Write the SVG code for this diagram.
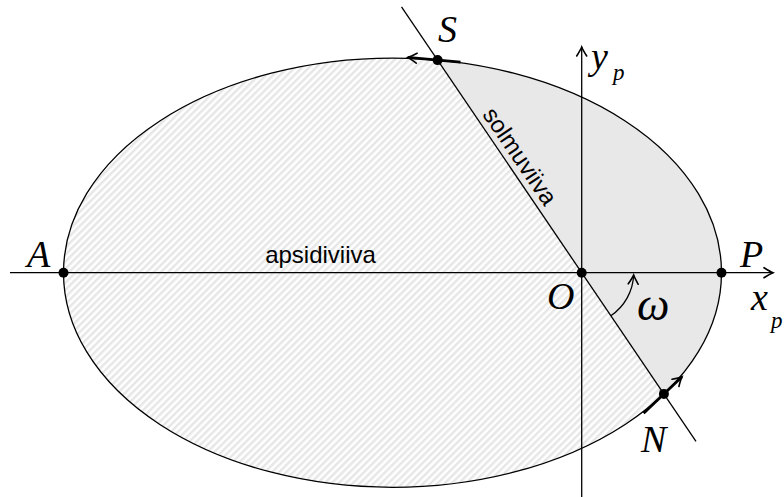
<svg xmlns="http://www.w3.org/2000/svg" width="784" height="497" viewBox="0 0 784 497">
<defs>
<pattern id="hatch" patternUnits="userSpaceOnUse" width="5" height="5" patternTransform="rotate(45)">
<rect width="5" height="5" fill="#ffffff"/>
<line x1="1.25" y1="0" x2="1.25" y2="5" stroke="#e6e6e6" stroke-width="2.4"/>
</pattern>
<marker id="arrow" viewBox="-11 -7 13 14" refX="0" refY="0" markerWidth="13" markerHeight="14" markerUnits="userSpaceOnUse" orient="auto">
<path d="M-9,-5 Q-3,-1.2 0,0 Q-3,1.2 -9,5" fill="none" stroke="#000" stroke-width="1.6" stroke-linecap="round"/>
</marker>
</defs>
<style>
.ln{stroke:#000;stroke-width:1.3;fill:none}
.vec{stroke:#000;stroke-width:2.8;fill:none}
.dot{fill:#000}
.math{font-family:"Liberation Serif","Times New Roman",serif;font-style:italic;font-size:38px;fill:#000}
.omega{font-size:46px}
.sub{font-family:"Liberation Serif","Times New Roman",serif;font-style:italic;font-size:23px;fill:#000}
.lbl{font-family:"Liberation Sans",Arial,sans-serif;font-size:24px;fill:#000}
</style>

<g id="orbit">
<path id="region-hatched" d="M437.6,60.1 L663.9,393.9 A329,214.6 0 1 1 437.6,60.1 Z" fill="url(#hatch)"/>
<path id="region-shaded" d="M437.6,60.1 L663.9,393.9 A329,214.6 0 0 0 437.6,60.1 Z" fill="#e8e8e8"/>
<ellipse cx="392.5" cy="272.7" rx="329" ry="214.6" class="ln" stroke-width="1.2"/>
</g>

<g id="connectors">
<line id="x-axis" x1="10" y1="272.7" x2="773" y2="272.7" class="ln" marker-end="url(#arrow)"/>
<line id="y-axis" x1="581.7" y1="497" x2="581.7" y2="47" class="ln" marker-end="url(#arrow)"/>
<line id="node-line" x1="401.5" y1="6.9" x2="696" y2="441.3" class="ln"/>
<path id="omega-arc" d="M610.8,315.8 A52,52 0 0 0 633.65,275.06" class="ln" stroke-width="1.5" marker-end="url(#arrow)"/>
<path id="vel-S" d="M460.5,62.2 L407.7,57.4" class="vec" marker-end="url(#arrow)"/>
<path id="vel-N" d="M643.6,413.2 L682,376.7" class="vec" marker-end="url(#arrow)"/>
</g>

<g id="node-A"><circle cx="63.5" cy="272.7" r="5" class="dot"/><text class="math" x="27" y="266.7">A</text></g>
<g id="node-P"><circle cx="721.5" cy="272.7" r="5" class="dot"/><text class="math" x="740" y="266.7">P</text></g>
<g id="node-O"><circle cx="581.7" cy="272.7" r="5" class="dot"/><text class="math" x="547" y="309">O</text></g>
<g id="node-S"><circle cx="437.6" cy="60.1" r="5" class="dot"/><text class="math" x="438" y="42">S</text></g>
<g id="node-N"><circle cx="663.9" cy="393.9" r="5" class="dot"/><text class="math" x="641" y="451.7">N</text></g>
<g id="label-omega"><text class="math omega" x="637" y="320">ω</text></g>
<g id="label-yp"><text class="math" x="591" y="69">y</text><text class="sub" x="613" y="80">p</text></g>
<g id="label-xp"><text class="math" x="751" y="310">x</text><text class="sub" x="771" y="328">p</text></g>
<g id="label-apsidiviiva"><text class="lbl" x="320.5" y="263" text-anchor="middle">apsidiviiva</text></g>
<g id="label-solmuviiva"><text class="lbl" x="513.2" y="160.8" text-anchor="middle" transform="rotate(55.86 513.2 160.8)">solmuviiva</text></g>
</svg>
